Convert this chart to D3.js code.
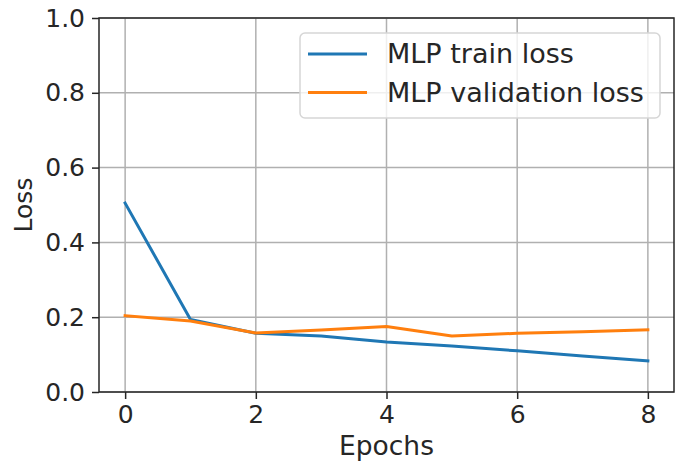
<!DOCTYPE html>
<html>
<head>
<meta charset="utf-8">
<script src="https://cdn.jsdelivr.net/npm/d3@7"></script>
<style>
  body { margin: 0; background: #fff; }
  text { font-family: "DejaVu Sans", sans-serif; fill: #262626; }
</style>
</head>
<body>
<script>
var width = 681
var height = 466
var margin = { top: 18, right: 7, bottom: 74, left: 99 }

// values
var epochs = [0, 1, 2, 3, 4, 5, 6, 7, 8]
var trainLoss = [0.505, 0.194, 0.157, 0.150, 0.134, 0.123, 0.110, 0.096, 0.083]
var validLoss = [0.204, 0.190, 0.158, 0.166, 0.175, 0.150, 0.157, 0.161, 0.166]
var seriesNames = ['MLP train loss', 'MLP validation loss']
var colors = ['#1f77b4', '#ff7f0e']
var xTicks = [0, 2, 4, 6, 8]
var yTicks = [0, 0.2, 0.4, 0.6, 0.8, 1.0]

var svg = d3.select('body').append('svg')
  .attr('width', width)
  .attr('height', height)

var xScale = d3.scaleLinear()
  .domain([-0.4, 8.4])
  .range([margin.left, width - margin.right])

var yScale = d3.scaleLinear()
  .domain([0, 1])
  .range([height - margin.bottom, margin.top])

// grid
svg.append('g').selectAll('line')
  .data(xTicks).enter().append('line')
  .attr('x1', d => xScale(d)).attr('x2', d => xScale(d))
  .attr('y1', margin.top).attr('y2', height - margin.bottom)
  .attr('stroke', '#b0b0b0').attr('stroke-width', 1.5)

svg.append('g').selectAll('line')
  .data(yTicks).enter().append('line')
  .attr('x1', margin.left).attr('x2', width - margin.right)
  .attr('y1', d => yScale(d)).attr('y2', d => yScale(d))
  .attr('stroke', '#b0b0b0').attr('stroke-width', 1.5)

var line = d3.line()
  .x((d, i) => xScale(epochs[i]))
  .y(d => yScale(d))

;[trainLoss, validLoss].forEach((s, i) => {
  svg.append('path')
    .attr('d', line(s))
    .attr('fill', 'none')
    .attr('stroke', colors[i])
    .attr('stroke-width', 3)
    .attr('stroke-linejoin', 'round')
    .attr('stroke-linecap', 'square')
})

// axes
var xAxis = d3.axisBottom(xScale).tickValues(xTicks).tickSize(7).tickPadding(6).tickFormat(d3.format('d'))
var yAxis = d3.axisLeft(yScale).tickValues(yTicks).tickSize(7).tickPadding(7).tickFormat(d3.format('.1f'))

var gx = svg.append('g')
  .attr('transform', 'translate(' + [0, height - margin.bottom] + ')')
  .call(xAxis)
var gy = svg.append('g')
  .attr('transform', 'translate(' + [margin.left, 0] + ')')
  .call(yAxis)

;[gx, gy].forEach(g => {
  g.select('.domain').remove()
  g.selectAll('line').attr('stroke', '#262626').attr('stroke-width', 1.5)
  g.selectAll('text').attr('font-size', 25).attr('font-family', 'DejaVu Sans').attr('fill', '#262626')
})

// frame
svg.append('rect')
  .attr('x', margin.left).attr('y', margin.top)
  .attr('width', width - margin.left - margin.right)
  .attr('height', height - margin.top - margin.bottom)
  .attr('fill', 'none').attr('stroke', '#262626').attr('stroke-width', 1.5)

// labels
svg.append('text')
  .attr('x', (margin.left + width - margin.right) / 2)
  .attr('y', 455)
  .attr('text-anchor', 'middle')
  .attr('font-size', 26.5)
  .text('Epochs')

svg.append('text')
  .attr('transform', 'translate(32,' + (margin.top + height - margin.bottom) / 2 + ') rotate(-90)')
  .attr('text-anchor', 'middle')
  .attr('font-size', 25)
  .text('Loss')

// legend
var legend = svg.append('g').attr('transform', 'translate(300,33)')
legend.append('rect')
  .attr('width', 360).attr('height', 85)
  .attr('rx', 5)
  .attr('fill', '#fff').attr('fill-opacity', 0.8)
  .attr('stroke', '#d6d6d6').attr('stroke-width', 1.5)

seriesNames.forEach((name, i) => {
  var y = 21 + i * 38.5
  legend.append('line')
    .attr('x1', 8).attr('x2', 67)
    .attr('y1', y).attr('y2', y)
    .attr('stroke', colors[i]).attr('stroke-width', 3)
  legend.append('text')
    .attr('x', 87).attr('y', y + 9)
    .attr('font-size', 27)
    .text(name)
})
</script>
</body>
</html>
